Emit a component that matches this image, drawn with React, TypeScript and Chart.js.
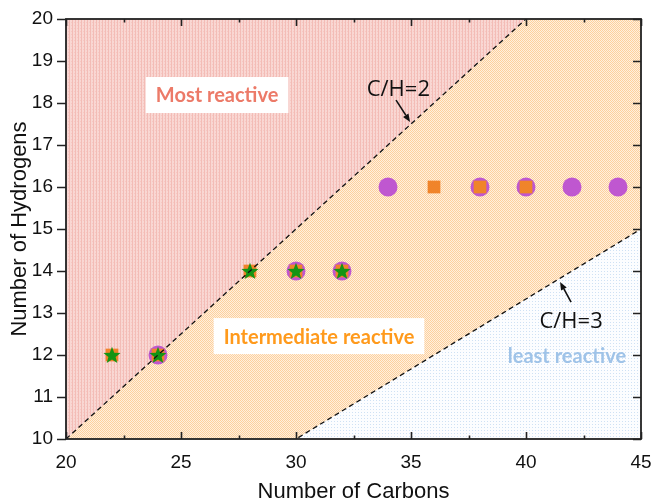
import React, { useEffect, useRef } from 'react';
import { Chart, registerables } from 'chart.js';

Chart.register(...registerables);

// ---- data ----
const xTickValues = [20, 25, 30, 35, 40, 45];
const yTickValues = [10, 11, 12, 13, 14, 15, 16, 17, 18, 19, 20];

// boundary lines C/H = 2 and C/H = 3
const ch2Carbons = [20, 45];
const ch2Hydrogens = [10, 22.5];
const ch3Carbons = [20, 45];
const ch3Hydrogens = [20 / 3, 15];

// markers
const starCarbons = [22, 24, 28, 30, 32];
const starHydrogens = [12, 12, 14, 14, 14];
const squareCarbons = [22, 24, 28, 30, 32, 36, 38, 40];
const squareHydrogens = [12, 12, 14, 14, 14, 16, 16, 16];
const circleCarbons = [24, 30, 32, 34, 38, 40, 42, 44];
const circleHydrogens = [12, 14, 14, 16, 16, 16, 16, 16];

// annotations (data coordinates)
const regionLabels = [
  { text: 'Most reactive', x: 26.57, y: 18.19, color: '#EC7A68', box: true },
  { text: 'Intermediate reactive', x: 31.0, y: 12.45, color: '#FF9A1C', box: true },
  { text: 'least reactive', x: 41.78, y: 11.98, color: '#9FC3E8', box: false },
];
const ratioLabels = [
  { text: 'C/H=2', x: 34.45, y: 18.31, tail: [34.35, 18.07], head: [34.96, 17.55] },
  { text: 'C/H=3', x: 41.96, y: 12.79, tail: [41.96, 13.26], head: [41.48, 13.74] },
];

const toXY = (xs: number[], ys: number[]) => xs.map((v, i) => ({ x: v, y: ys[i] }));

function makePattern(size: number, draw: (c: CanvasRenderingContext2D) => void) {
  const cv = document.createElement('canvas');
  cv.width = size;
  cv.height = size;
  const c = cv.getContext('2d')!;
  draw(c);
  return c.createPattern(cv, 'repeat')!;
}

function makeStar(color: string, R: number) {
  const size = Math.ceil(R * 2 + 2);
  const cv = document.createElement('canvas');
  cv.width = size;
  cv.height = size;
  const c = cv.getContext('2d')!;
  const cx = size / 2, cy = size / 2 + 0.8;
  const r = R * 0.42;
  c.beginPath();
  for (let i = 0; i < 10; i++) {
    const rad = i % 2 === 0 ? R : r;
    const a = -Math.PI / 2 + (i * Math.PI) / 5;
    const px = cx + rad * Math.cos(a), py = cy + rad * Math.sin(a);
    if (i === 0) c.moveTo(px, py); else c.lineTo(px, py);
  }
  c.closePath();
  c.fillStyle = color;
  c.fill();
  return cv;
}

const framePlugin = {
  id: 'frame',
  afterDraw(chart: any) {
    const { ctx, chartArea: a, scales } = chart;
    const xs = scales.x, ys = scales.y;
    ctx.save();
    ctx.strokeStyle = '#222';
    ctx.lineWidth = 1.6;
    ctx.beginPath();
    for (let v = 20; v <= 45; v += 2.5) {
      const px = Math.round(xs.getPixelForValue(v)) + 0.5;
      const len = Number.isInteger(v / 5) ? 7 : 3.5;
      ctx.moveTo(px, a.bottom); ctx.lineTo(px, a.bottom - len);
      ctx.moveTo(px, a.top); ctx.lineTo(px, a.top + len);
    }
    for (const v of yTickValues) {
      const py = Math.round(ys.getPixelForValue(v)) + 0.5;
      ctx.moveTo(a.left - 9, py); ctx.lineTo(a.left, py);
      ctx.moveTo(a.right, py); ctx.lineTo(a.right - 8, py);
    }
    ctx.stroke();
    ctx.lineWidth = 1.8;
    ctx.strokeRect(a.left, a.top, a.right - a.left, a.bottom - a.top);
    ctx.restore();
  },
};

const annotationPlugin = {
  id: 'annot',
  afterDatasetsDraw(chart: any) {
    const { ctx, scales } = chart;
    const xs = scales.x, ys = scales.y;
    ctx.save();
    ctx.textAlign = 'center';
    ctx.textBaseline = 'middle';
    for (const l of regionLabels) {
      ctx.font = 'bold 20px Lato';
      const w = ctx.measureText(l.text).width;
      const px = xs.getPixelForValue(l.x), py = ys.getPixelForValue(l.y);
      if (l.box) {
        ctx.fillStyle = '#ffffff';
        ctx.fillRect(px - w / 2 - 10, py - 18, w + 20, 36);
      }
      ctx.fillStyle = l.color;
      ctx.fillText(l.text, px, py + 1);
    }
    for (const l of ratioLabels) {
      ctx.font = '22px "Open Sans"';
      ctx.fillStyle = '#111';
      ctx.fillText(l.text, xs.getPixelForValue(l.x), ys.getPixelForValue(l.y));
      const tx = xs.getPixelForValue(l.tail[0]), ty = ys.getPixelForValue(l.tail[1]);
      const hx = xs.getPixelForValue(l.head[0]), hy = ys.getPixelForValue(l.head[1]);
      const ang = Math.atan2(hy - ty, hx - tx);
      const hl = 8, hw = 3.2;
      const bx = hx - hl * Math.cos(ang), by = hy - hl * Math.sin(ang);
      ctx.strokeStyle = '#111';
      ctx.lineWidth = 1.6;
      ctx.beginPath();
      ctx.moveTo(tx, ty); ctx.lineTo(bx, by);
      ctx.stroke();
      ctx.beginPath();
      ctx.moveTo(hx, hy);
      ctx.lineTo(bx + hw * Math.sin(ang), by - hw * Math.cos(ang));
      ctx.lineTo(bx - hw * Math.sin(ang), by + hw * Math.cos(ang));
      ctx.closePath();
      ctx.fillStyle = '#111';
      ctx.fill();
    }
    ctx.restore();
  },
};

const axisFont = (size: number) => ({ family: '"Liberation Sans", Arimo, Arial, sans-serif', size, lineHeight: 1 });

export default function App() {
  const ref = useRef<HTMLCanvasElement>(null);
  useEffect(() => {
    if (!ref.current) return;
    const redPat = makePattern(3, (c) => {
      c.fillStyle = '#F9D7D3'; c.fillRect(0, 0, 3, 3);
      c.fillStyle = '#F3BCB6'; c.fillRect(0, 0, 1, 3);
      c.fillStyle = '#F6C8C3'; c.fillRect(2, 1, 1, 1);
    });
    const orangePat = makePattern(2, (c) => {
      c.fillStyle = '#FFF0DE'; c.fillRect(0, 0, 2, 2);
      c.fillStyle = '#FDD09E'; c.fillRect(0, 0, 1, 1); c.fillRect(1, 1, 1, 1);
    });
    const bluePat = makePattern(3, (c) => {
      c.fillStyle = '#FCFDFF'; c.fillRect(0, 0, 3, 3);
      c.fillStyle = '#CFE1F4'; c.fillRect(1, 1, 1, 1);
    });
    const star = makeStar('#149414', 9);

    const chart = new Chart(ref.current, {
      type: 'scatter',
      data: {
        datasets: [
          {
            type: 'line',
            label: 'C/H=2',
            data: toXY(ch2Carbons, ch2Hydrogens),
            borderColor: '#111',
            borderWidth: 1.3,
            borderDash: [5, 3.5],
            pointRadius: 0,
            fill: 'end',
            backgroundColor: redPat as any,
          },
          {
            type: 'line',
            label: 'C/H=3',
            data: toXY(ch3Carbons, ch3Hydrogens),
            borderColor: '#111',
            borderWidth: 1.3,
            borderDash: [5, 3.5],
            pointRadius: 0,
            fill: '-1',
            backgroundColor: orangePat as any,
          },
          {
            type: 'line',
            label: 'least',
            data: toXY(ch3Carbons, ch3Hydrogens),
            borderWidth: 0,
            borderColor: 'rgba(0,0,0,0)',
            pointRadius: 0,
            fill: 'start',
            backgroundColor: bluePat as any,
          },
          {
            label: 'stars',
            data: toXY(starCarbons, starHydrogens),
            pointStyle: star as any,
            pointRadius: 9,
          },
          {
            label: 'squares',
            data: toXY(squareCarbons, squareHydrogens),
            pointStyle: 'rect',
            pointRadius: 9,
            borderWidth: 0,
            backgroundColor: '#F0842A',
            borderColor: '#F0842A',
          },
          {
            label: 'circles',
            data: toXY(circleCarbons, circleHydrogens),
            pointStyle: 'circle',
            pointRadius: 9.5,
            borderWidth: 0,
            backgroundColor: '#BF57D0',
            borderColor: '#BF57D0',
          },
        ],
      },
      options: {
        responsive: false,
        animation: false,
        layout: { padding: { top: 19, right: 11, bottom: 0, left: 0 } },
        plugins: {
          legend: { display: false },
          tooltip: { enabled: false },
          filler: { drawTime: 'beforeDatasetsDraw' } as any,
        },
        scales: {
          x: {
            type: 'linear',
            min: 20,
            max: 45,
            afterFit: (s: any) => { s.height = 63; s.paddingLeft = 0; s.paddingRight = 0; },
            afterBuildTicks: (s: any) => { s.ticks = xTickValues.map((v) => ({ value: v })); },
            grid: { display: false, drawTicks: false },
            border: { display: false },
            ticks: { padding: 14, color: '#111', font: axisFont(19) },
            title: {
              display: true,
              text: 'Number of Carbons',
              color: '#111',
              padding: { top: 0, bottom: -1 },
              font: axisFont(22),
            },
          },
          y: {
            type: 'linear',
            min: 10,
            max: 20,
            afterFit: (s: any) => { s.width = 66; s.paddingTop = 0; s.paddingBottom = 0; },
            afterBuildTicks: (s: any) => { s.ticks = yTickValues.map((v) => ({ value: v })); },
            grid: { display: false, drawTicks: false },
            border: { display: false },
            ticks: { padding: 13, color: '#111', font: axisFont(19) },
            title: {
              display: true,
              text: 'Number of Hydrogens',
              color: '#111',
              padding: { top: 9, bottom: 0 },
              font: axisFont(22),
            },
          },
        },
      },
      plugins: [annotationPlugin, framePlugin],
    });
    return () => chart.destroy();
  }, []);

  return (
    <div style={{ position: 'fixed', left: 0, top: 0, width: 652, height: 502, background: '#fff' }}>
      <canvas ref={ref} width={652} height={502} style={{ display: 'block' }} />
    </div>
  );
}
